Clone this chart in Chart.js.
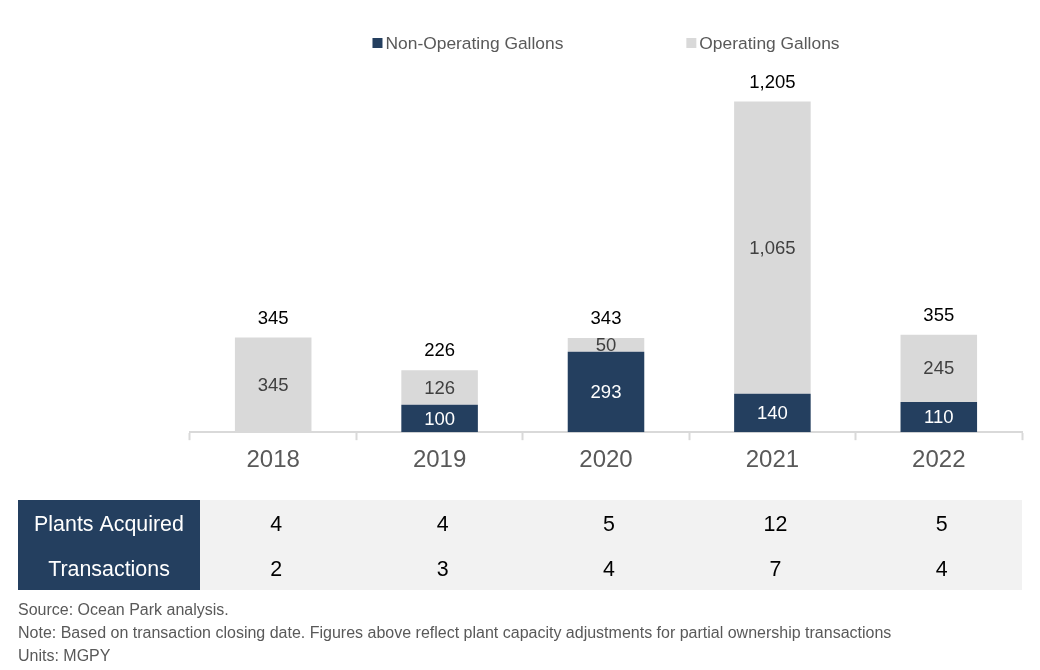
<!DOCTYPE html>
<html>
<head>
<meta charset="utf-8">
<script src="https://cdn.jsdelivr.net/npm/chart.js@4"></script>
<style>
  html, body { margin: 0; padding: 0; background: #fff; }
  #wrap { width: 1040px; height: 670px; position: relative; }
</style>
</head>
<body>
<div id="wrap"><canvas id="gallonsChart" width="1040" height="670"></canvas></div>
<script>
var years = ['2018', '2019', '2020', '2021', '2022'];
var nonOperating = [0, 100, 293, 140, 110];
var operating = [345, 126, 50, 1065, 245];
var plantsAcquired = [4, 4, 5, 12, 5];
var transactions = [2, 3, 4, 7, 4];
var footNotes = [
    'Source: Ocean Park analysis.',
    'Note: Based on transaction closing date. Figures above reflect plant capacity adjustments for partial ownership transactions',
    'Units: MGPY'
];

var FONT = '"Liberation Sans", Arial, sans-serif';
var NAVY = '#243f5f';
var LIGHT = '#d9d9d9';

// legend, labels, totals, table and notes
var extrasPlugin = {
    id: 'extras',
    afterDraw: function (chart) {
        var ctx = chart.ctx;
        var area = chart.chartArea;
        var xs = chart.scales.x;
        ctx.save();

        // legend
        ctx.font = '17.4px ' + FONT;
        ctx.textBaseline = 'middle';
        var ds = chart.data.datasets;
        var w1 = 13 + ctx.measureText(ds[0].label).width;
        var w2 = 13 + ctx.measureText(ds[1].label).width;
        var gap = 123;
        var lx = (area.left + area.right) / 2 - (w1 + gap + w2) / 2;
        var ly = 43;
        [[ds[0], lx], [ds[1], lx + w1 + gap]].forEach(function (it) {
            ctx.fillStyle = it[0].backgroundColor;
            ctx.fillRect(it[1], ly - 5, 10, 10);
            ctx.fillStyle = '#595959';
            ctx.textAlign = 'left';
            ctx.fillText(it[0].label, it[1] + 13, ly + 1);
        });

        // segment labels
        ctx.textAlign = 'center';
        ctx.font = '18.5px ' + FONT;
        chart.data.datasets.forEach(function (d, di) {
            var meta = chart.getDatasetMeta(di);
            meta.data.forEach(function (bar, i) {
                var v = d.data[i];
                if (!v) return;
                var y = (bar.y + bar.base) / 2;
                ctx.fillStyle = di === 0 ? '#ffffff' : '#404040';
                ctx.fillText(v.toLocaleString('en-US'), bar.x, y + 1);
            });
        });

        // totals
        ctx.font = '18.5px ' + FONT;
        ctx.fillStyle = '#000000';
        var top = chart.getDatasetMeta(1);
        top.data.forEach(function (bar, i) {
            var total = nonOperating[i] + operating[i];
            ctx.fillText(total.toLocaleString('en-US'), bar.x, bar.y - 19);
        });

        // table
        var tTop = 500, rowH = 45;
        ctx.fillStyle = NAVY;
        ctx.fillRect(18, tTop, 182, rowH * 2);
        ctx.fillStyle = '#f2f2f2';
        ctx.fillRect(200, tTop, area.right - 200, rowH * 2);
        ctx.font = '21.4px ' + FONT;
        var rows = [['Plants Acquired', plantsAcquired], ['Transactions', transactions]];
        rows.forEach(function (r, ri) {
            var cy = tTop + rowH * ri + rowH / 2 + 3;
            ctx.fillStyle = '#ffffff';
            ctx.fillText(r[0], 109, cy);
            ctx.fillStyle = '#000000';
            r[1].forEach(function (v, i) {
                ctx.fillText(String(v), xs.getPixelForValue(i) + 3, cy);
            });
        });

        // notes
        ctx.textAlign = 'left';
        ctx.font = '16px ' + FONT;
        ctx.fillStyle = '#595959';
        footNotes.forEach(function (t, i) {
            ctx.fillText(t, 18, 611 + i * 23);
        });
        ctx.restore();
    }
};

var ctx = document.getElementById('gallonsChart').getContext('2d');
var myChart = new Chart(ctx, {
    type: 'bar',
    data: {
        labels: years,
        datasets: [{
            label: 'Non-Operating Gallons',
            data: nonOperating,
            backgroundColor: NAVY,
            categoryPercentage: 1,
            barPercentage: 0.46
        }, {
            label: 'Operating Gallons',
            data: operating,
            backgroundColor: LIGHT,
            categoryPercentage: 1,
            barPercentage: 0.46
        }]
    },
    options: {
        responsive: false,
        animation: false,
        layout: {
            padding: { left: 190, right: 18, top: 70, bottom: 189 }
        },
        plugins: {
            legend: { display: false },
            tooltip: { enabled: false }
        },
        scales: {
            x: {
                stacked: true,
                border: { display: true, color: LIGHT, width: 2 },
                grid: {
                    display: true,
                    offset: true,
                    drawOnChartArea: false,
                    drawTicks: true,
                    tickLength: 8,
                    tickWidth: 2,
                    tickColor: LIGHT
                },
                ticks: {
                    padding: 6,
                    color: '#595959',
                    font: { family: FONT, size: 24 }
                }
            },
            y: {
                stacked: true,
                display: false,
                min: 0,
                max: 1320
            }
        }
    },
    plugins: [extrasPlugin]
});
</script>
</body>
</html>
